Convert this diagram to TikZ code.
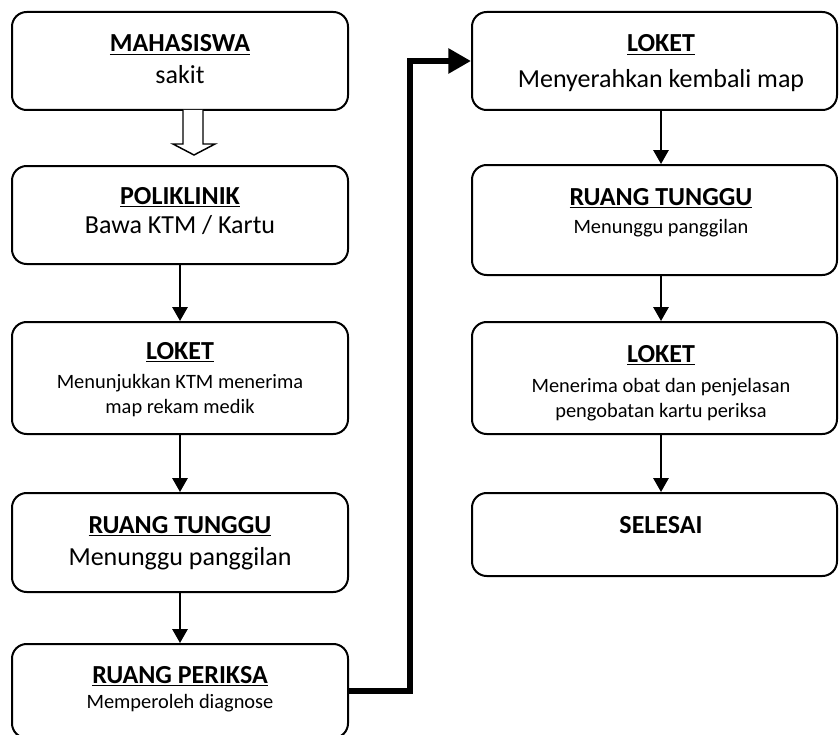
\documentclass[tikz,border=0pt]{standalone}
\usepackage{fontspec}
\setmainfont{Carlito}
\usetikzlibrary{fit,arrows.meta}
\begin{document}
\begin{tikzpicture}[x=0.75pt,y=-0.75pt,
  box/.style={draw=black,line width=1.5pt,rounded corners=11pt,inner sep=0pt},
  ttl/.style={anchor=base,inner sep=0pt,font=\fontsize{19.5}{22}\selectfont\bfseries},
  big/.style={anchor=base,inner sep=0pt,font=\fontsize{19.5}{22}\selectfont},
  small/.style={anchor=base,inner sep=0pt,font=\fontsize{15.3}{18}\selectfont},
  flow/.style={draw=black,line width=1.5pt,-{Triangle[width=11.5pt,length=10.5pt]}},
  jump/.style={draw=black,line width=5.2pt,line join=miter,-{Triangle[width=18pt,length=17pt]}}]
\useasboundingbox (0,0) rectangle (839,735);

% left column
\node[box,fit={(12,12) (348,110)}] (b1) {};
\node[box,fit={(12,166) (348,264)}] (b2) {};
\node[box,fit={(12,322) (348,434)}] (b3) {};
\node[box,fit={(12,493) (348,592)}] (b4) {};
\node[box,fit={(12,644) (348,738)}] (b5) {};

\node[ttl] (t1) at (180,52) {\underline{MAHASISWA}};
\node[big] (s1) at (180,84) {sakit};
\node[ttl] (t2) at (180,204) {\underline{POLIKLINIK}};
\node[big] (s2) at (180,233) {Bawa KTM / Kartu};
\node[ttl] (t3) at (180,359) {\underline{LOKET}};
\node[small] (s3a) at (180,388) {Menunjukkan KTM menerima};
\node[small] (s3b) at (180,413) {map rekam medik};
\node[ttl] (t4) at (180,533) {\underline{RUANG TUNGGU}};
\node[big] (s4) at (180,565) {Menunggu panggilan};
\node[ttl] (t5) at (180,683) {\underline{RUANG PERIKSA}};
\node[small] (s5) at (180,708) {Memperoleh diagnose};

% right column
\node[box,fit={(472,12) (837,110)}] (r1) {};
\node[box,fit={(472,165) (837,275)}] (r2) {};
\node[box,fit={(472,322) (837,434)}] (r3) {};
\node[box,fit={(472,493) (837,576)}] (r4) {};

\node[ttl] (u1) at (661,52) {\underline{LOKET}};
\node[big] (v1) at (661,88) {Menyerahkan kembali map};
\node[ttl] (u2) at (661,205) {\underline{RUANG TUNGGU}};
\node[small] (v2) at (661,233) {Menunggu panggilan};
\node[ttl] (u3) at (661,362) {\underline{LOKET}};
\node[small] (v3a) at (661,392) {Menerima obat dan penjelasan};
\node[small] (v3b) at (661,417) {pengobatan kartu periksa};
\node[ttl] (u4) at (661,533) {SELESAI};

% hollow block arrow below the first box
\draw[line width=1.1pt,line join=miter,fill=white]
  (183,110) -- (183,144) -- (173,144) -- (194,155) -- (215,144) -- (203,144) -- (203,110);

% flow connectors
\draw[flow] (b2.south) -- (b3.north);
\draw[flow] (b3.south) -- (b4.north);
\draw[flow] (b4.south) -- (b5.north);
\draw[flow] (r1.south -| u1) -- (r2.north -| u1);
\draw[flow] (r2.south -| u1) -- (r3.north -| u1);
\draw[flow] (r3.south -| u1) -- (r4.north -| u1);

% thick link from the examination room to the second column
\coordinate (bend) at (410,61);
\draw[jump] (b5.east) -| (bend) -- (r1.west);
\end{tikzpicture}
\end{document}
